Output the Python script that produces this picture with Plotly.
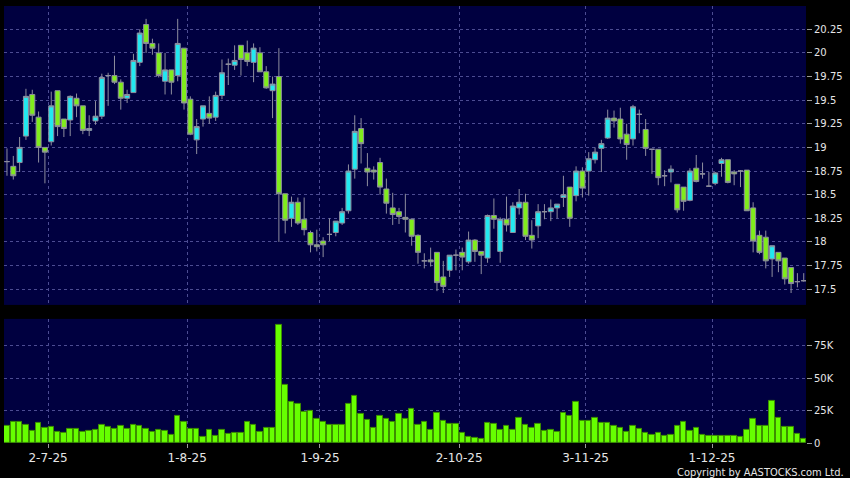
import numpy as np
import pandas as pd
import plotly.graph_objects as go

# ---------------- data ----------------
hk_holidays = ["2025-07-01", "2025-10-01", "2025-10-07", "2025-10-29"]
dates = pd.bdate_range("2025-06-20", "2025-12-19", freq="C", holidays=hk_holidays)

open_ = [18.85, 18.80, 18.84, 19.12, 19.56, 19.32, 19.00, 19.06, 19.60, 19.30,
         19.29, 19.52, 19.44, 19.18, 19.28, 19.33, 19.76, 19.76, 19.69, 19.52,
         19.58, 19.90, 20.30, 20.10, 20.00, 19.70, 19.82, 19.76, 20.05, 19.51,
         19.08, 19.30, 19.36, 19.32, 19.55, 19.88, 19.87, 20.08, 20.00, 19.90,
         20.00, 19.80, 19.60, 19.75, 18.51, 18.25, 18.42, 18.24, 18.10, 17.97,
         18.01, 18.08, 18.10, 18.20, 18.33, 18.77, 19.20, 18.78, 18.76, 18.84,
         18.56, 18.36, 18.32, 18.26, 18.24, 18.07, 17.80, 17.81, 17.89, 17.63,
         17.70, 17.86, 17.89, 17.79, 18.02, 17.90, 17.83, 18.28, 17.90, 18.24,
         18.10, 18.36, 18.42, 18.07, 18.17, 18.32, 18.32, 18.36, 18.47, 18.58,
         18.49, 18.75, 18.75, 18.87, 18.99, 19.10, 19.31, 19.30, 19.14, 19.09,
         19.35, 19.19, 18.98, 18.98, 18.70, 18.74, 18.61, 18.58, 18.44, 18.78,
         18.72, 18.59, 18.62, 18.83, 18.87, 18.74, 18.75, 18.76, 18.36, 18.07,
         18.05, 17.82, 17.89, 17.83, 17.73, 17.58, 17.59]
high = [18.99, 18.91, 19.11, 19.62, 19.61, 19.38, 19.00, 19.59, 19.60, 19.30,
        19.55, 19.57, 19.44, 19.34, 19.49, 19.78, 19.79, 19.97, 19.72, 19.61,
        19.99, 20.25, 20.36, 20.15, 20.10, 20.00, 19.82, 20.36, 20.05, 19.54,
        19.30, 19.44, 19.54, 19.59, 19.93, 19.94, 20.08, 20.08, 20.13, 20.10,
        20.06, 19.86, 19.75, 20.05, 18.51, 18.48, 18.47, 18.47, 18.12, 18.13,
        18.05, 18.25, 18.22, 18.36, 18.82, 19.34, 19.31, 18.94, 18.80, 18.89,
        18.67, 18.52, 18.36, 18.51, 18.25, 18.08, 17.88, 17.94, 17.89, 17.80,
        17.86, 17.92, 17.94, 18.11, 18.03, 17.90, 18.29, 18.46, 18.26, 18.48,
        18.42, 18.56, 18.51, 18.23, 18.40, 18.40, 18.45, 18.40, 18.70, 18.58,
        18.80, 18.79, 18.95, 19.00, 19.08, 19.40, 19.39, 19.42, 19.25, 19.45,
        19.40, 19.30, 18.98, 18.98, 18.76, 18.81, 18.61, 18.58, 18.78, 18.92,
        18.84, 18.74, 18.74, 18.89, 18.87, 18.76, 18.76, 18.76, 18.42, 18.12,
        18.12, 17.96, 17.89, 17.83, 17.73, 17.67, 17.67]
low = [18.70, 18.66, 18.74, 19.08, 19.27, 18.84, 18.62, 19.02, 19.12, 19.11,
       19.12, 19.32, 19.14, 19.12, 19.24, 19.30, 19.44, 19.67, 19.40, 19.47,
       19.58, 19.86, 20.00, 19.98, 19.74, 19.56, 19.56, 19.70, 19.40, 19.13,
       18.93, 19.22, 19.25, 19.28, 19.51, 19.66, 19.82, 19.76, 19.86, 19.69,
       19.80, 19.62, 19.31, 18.00, 18.09, 18.16, 18.18, 18.07, 17.89, 17.90,
       17.84, 18.01, 18.06, 18.18, 18.30, 18.67, 18.83, 18.59, 18.66, 18.50,
       18.30, 18.18, 18.19, 18.10, 17.96, 17.77, 17.72, 17.74, 17.48, 17.46,
       17.63, 17.70, 17.70, 17.77, 17.79, 17.66, 17.78, 18.14, 17.78, 18.11,
       18.10, 18.29, 18.02, 17.93, 18.04, 18.24, 18.22, 18.25, 18.37, 18.16,
       18.43, 18.47, 18.49, 18.83, 18.74, 19.09, 19.21, 19.04, 18.87, 19.02,
       19.15, 18.91, 18.72, 18.60, 18.59, 18.63, 18.31, 18.33, 18.43, 18.63,
       18.67, 18.59, 18.60, 18.69, 18.62, 18.60, 18.58, 18.33, 17.89, 17.87,
       17.72, 17.63, 17.68, 17.55, 17.46, 17.52, 17.58]
close = [18.85, 18.70, 19.00, 19.54, 19.34, 19.00, 18.95, 19.44, 19.22, 19.20,
         19.54, 19.44, 19.18, 19.20, 19.33, 19.74, 19.76, 19.69, 19.52, 19.56,
         19.92, 20.21, 20.10, 20.05, 19.76, 19.82, 19.69, 20.10, 19.47, 19.14,
         19.22, 19.44, 19.31, 19.55, 19.79, 19.88, 19.92, 19.93, 19.91, 20.05,
         19.80, 19.63, 19.67, 18.51, 18.23, 18.42, 18.20, 18.13, 17.97, 17.95,
         17.97, 18.08, 18.22, 18.32, 18.75, 19.17, 19.04, 18.74, 18.74, 18.58,
         18.41, 18.29, 18.27, 18.24, 18.06, 17.89, 17.80, 17.79, 17.57, 17.53,
         17.86, 17.86, 17.84, 18.02, 17.90, 17.86, 18.28, 18.24, 18.24, 18.18,
         18.38, 18.42, 18.06, 18.02, 18.32, 18.32, 18.36, 18.40, 18.50, 18.25,
         18.75, 18.57, 18.88, 18.95, 19.04, 19.31, 19.28, 19.09, 19.03, 19.43,
         19.35, 18.99, 18.98, 18.68, 18.70, 18.77, 18.34, 18.43, 18.75, 18.64,
         18.72, 18.59, 18.73, 18.87, 18.63, 18.72, 18.75, 18.33, 18.01, 17.89,
         17.80, 17.96, 17.80, 17.61, 17.56, 17.58, 17.59]
volume_k = [13.1, 16.1, 16.1, 13.6, 9.5, 15.4, 12.0, 12.5, 8.4, 7.7,
            11.0, 10.7, 8.7, 9.0, 10.2, 14.3, 12.5, 10.5, 13.1, 10.5,
            13.6, 12.8, 10.7, 8.4, 10.2, 9.7, 6.4, 21.0, 16.6, 11.0,
            11.0, 4.9, 10.0, 5.4, 10.2, 6.7, 7.7, 7.7, 16.4, 13.8,
            8.2, 11.5, 12.0, 90.8, 44.8, 31.7, 29.9, 23.8, 24.6, 18.2,
            16.1, 13.8, 13.6, 14.1, 30.5, 36.3, 22.8, 17.9, 11.8, 20.5,
            18.2, 16.1, 22.3, 18.7, 26.4, 13.8, 16.4,
            10.2, 23.3, 17.4, 15.1, 15.1, 7.9, 4.9, 4.1, 2.8, 15.6,
            14.8, 10.0, 13.1, 10.0, 19.4, 13.8, 12.0, 15.1, 9.2, 10.0,
            8.2, 23.3, 20.5, 31.7, 17.4, 17.1, 19.7, 15.4, 15.4, 13.3,
            11.8, 8.7, 12.8, 11.0, 7.9, 6.1, 7.7, 5.1, 6.4, 13.3,
            16.4, 9.5, 11.5, 5.9, 5.4, 5.1, 5.4, 5.6, 5.1, 4.9,
            10.2, 18.2, 12.8, 13.1, 32.2, 19.2, 12.5, 12.5, 7.2, 3.3]

price_ticks = [17.5, 17.75, 18, 18.25, 18.5, 18.75, 19, 19.25, 19.5, 19.75, 20, 20.25]
vol_ticks = [0, 25000, 50000, 75000]
vol_tick_text = ["0", "25K", "50K", "75K"]

# ---------------- derived ----------------
o = np.array(open_); h = np.array(high); l = np.array(low); c = np.array(close)
vol = np.array(volume_k) * 1000
pos = np.arange(len(dates))
doji = o == c
body = ~doji

# month boundaries for x ticks
month_first = [i for i in range(1, len(dates)) if dates[i].month != dates[i - 1].month]
tick_pos = [i - 0.5 for i in month_first]
tick_txt = [f"{dates[i].day}-{dates[i].month}-{dates[i].strftime('%y')}" for i in month_first]

GRID = "#4c4c92"
GDASH = "3px,3px"
WICK = "#8e8e9e"
FONT = "DejaVu Sans"

fig = go.Figure()
fig.add_trace(go.Candlestick(
    x=pos[body], open=o[body], high=h[body], low=l[body], close=c[body],
    increasing=dict(line=dict(color=WICK, width=1), fillcolor="#22E8F0"),
    decreasing=dict(line=dict(color=WICK, width=1), fillcolor="#80EC1C"),
    whiskerwidth=0, xaxis="x", yaxis="y", hoverinfo="skip"))
fig.add_trace(go.Candlestick(
    x=pos[doji], open=o[doji], high=h[doji], low=l[doji], close=c[doji],
    increasing=dict(line=dict(color=WICK, width=1), fillcolor=WICK),
    decreasing=dict(line=dict(color=WICK, width=1), fillcolor=WICK),
    whiskerwidth=0, xaxis="x", yaxis="y", hoverinfo="skip"))
fig.add_trace(go.Bar(
    x=pos, y=vol, width=0.86,
    marker=dict(color="#66FF00", line=dict(color="#3D8F00", width=1)),
    xaxis="x2", yaxis="y2", hoverinfo="skip"))

xr = [-0.47, len(dates) - 1 + 0.36]
fig.update_layout(
    width=850, height=478,
    paper_bgcolor="#000000", plot_bgcolor="#000040",
    margin=dict(l=4, r=44, t=6, b=35, autoexpand=False),
    showlegend=False,
    boxgap=0.12, boxgroupgap=0.1,
    font=dict(family=FONT, color="#E6E6E6", size=10),
    xaxis=dict(domain=[0, 1], anchor="y", range=xr, tickvals=tick_pos,
               showticklabels=False, ticks="", showgrid=True, gridcolor=GRID,
               griddash=GDASH, gridwidth=1, zeroline=False,
               rangeslider=dict(visible=False), showline=False, automargin=False),
    yaxis=dict(domain=[0.316, 1], anchor="x", side="right", range=[17.334, 20.496],
               tickvals=price_ticks, ticks="outside", ticklen=5, tickcolor="#9a9a9a",
               showgrid=True, gridcolor=GRID, griddash=GDASH, zeroline=False,
               tickfont=dict(size=10, color="#E6E6E6"), showline=False, automargin=False),
    xaxis2=dict(domain=[0, 1], anchor="y2", range=xr, tickvals=tick_pos,
                ticktext=tick_txt, ticks="outside", ticklen=4, tickcolor="#9a9a9a",
                showgrid=True, gridcolor=GRID, griddash=GDASH, zeroline=False,
                tickfont=dict(size=12, color="#E6E6E6"), showline=False, automargin=False),
    yaxis2=dict(domain=[0, 0.284], anchor="x2", side="right", range=[0, 95600],
                tickvals=vol_ticks, ticktext=vol_tick_text, ticks="outside", ticklen=5,
                tickcolor="#9a9a9a", showgrid=True, gridcolor=GRID, griddash=GDASH,
                zeroline=False, tickfont=dict(size=10, color="#E6E6E6"), showline=False,
                automargin=False),
    bargap=0,
    annotations=[dict(text="Copyright by AASTOCKS.com Ltd.", xref="paper", yref="paper",
                      x=1, y=0, xanchor="right", yanchor="middle", xshift=40, yshift=-29,
                      showarrow=False, font=dict(family="DejaVu Sans Condensed, DejaVu Sans",
                                                 size=11, color="#E6E6E6"))],
)

fig.write_html("out.html", config={"displayModeBar": False},
               post_script="document.body.style.margin='0';")
